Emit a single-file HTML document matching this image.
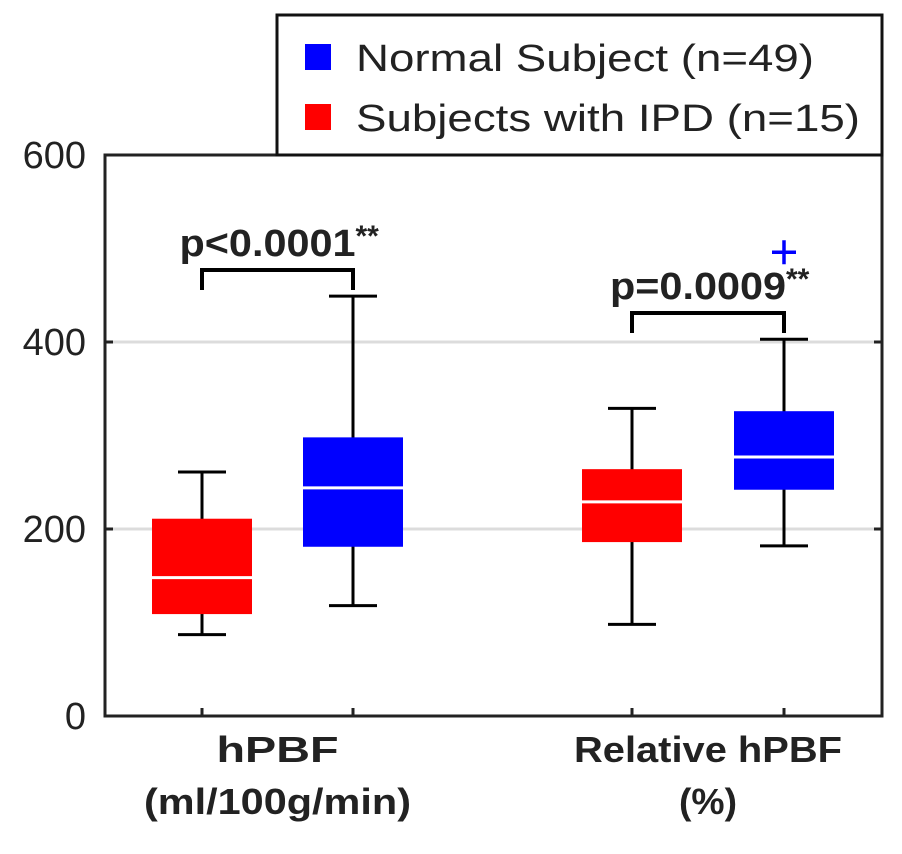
<!DOCTYPE html>
<html><head><meta charset="utf-8"><style>
body{margin:0;background:#fff}
svg text{font-family:"Liberation Sans",Arial,sans-serif;fill:#222}
</style></head><body>
<svg id="chart" width="902" height="849" viewBox="0 0 902 849" xmlns="http://www.w3.org/2000/svg">
<g id="grid"></g>
<g id="boxes"></g>
<g id="axes"></g>
<g id="legend">
<rect x="277" y="15" width="605" height="140" fill="#fff" stroke="#111" stroke-width="3"/>
<rect x="305" y="44" width="26" height="26" fill="#0000ff"/>
<text x="356" y="71" font-size="38" textLength="458" lengthAdjust="spacingAndGlyphs">Normal Subject (n=49)</text>
<rect x="305" y="104" width="26" height="26" fill="#ff0000"/>
<text x="356" y="131" font-size="38" textLength="504" lengthAdjust="spacingAndGlyphs">Subjects with IPD (n=15)</text>
</g>
</svg>
<script>
const yTicks=[0,200,400,600];
const groups=["hPBF|(ml/100g/min)","Relative hPBF|(%)"];
const seriesNames=["ipd","normal"];
const ipdStats=[[87,109,148,211,261],[98,186,229,264,329]];
const normalStats=[[118,181,244,298,449],[182,242,277,326,403]];
const normalOutliers=[[],[496]];
const pLabels=["p<0.0001","p=0.0009"];
const ns="http://www.w3.org/2000/svg";
const L=105,R=882,T=155,B=716;
const y=v=>B-(v-0)/(600-0)*(B-T);
const centers=[[202,353],[632,784]];
const l1W=[122,268],l2W=[267,58];
function el(tag,attrs,parent){const e=document.createElementNS(ns,tag);for(const k in attrs)e.setAttribute(k,attrs[k]);parent.appendChild(e);return e;}
const grid=document.getElementById('grid'),boxes=document.getElementById('boxes'),axes=document.getElementById('axes');
yTicks.forEach(t=>{
 if(t>0&&t<600){const g=el('line',{x1:L,x2:R,y1:y(t),y2:y(t),stroke:'#dcdcdc','stroke-width':3},grid);
 
 }
 el('line',{x1:L,x2:L+8,y1:y(t),y2:y(t),stroke:'#222','stroke-width':3},axes);
 el('line',{x1:R-8,x2:R,y1:y(t),y2:y(t),stroke:'#222','stroke-width':3},axes);
 const tx=el('text',{x:86,y:y(t)+13,'font-size':38,'text-anchor':'end'},axes);tx.textContent=t;
 
 
});
const frame=el('rect',{x:L,y:T,width:R-L,height:B-T,fill:'none',stroke:'#222','stroke-width':3},axes);


function drawBox(cx,s,color,name){
 const g=el('g',{},boxes);
 
 
 el('line',{x1:cx,x2:cx,y1:y(s[0]),y2:y(s[4]),stroke:'#000','stroke-width':3},g);
 el('line',{x1:cx-24,x2:cx+24,y1:y(s[0]),y2:y(s[0]),stroke:'#000','stroke-width':3},g);
 el('line',{x1:cx-24,x2:cx+24,y1:y(s[4]),y2:y(s[4]),stroke:'#000','stroke-width':3},g);
 el('rect',{x:cx-50,y:y(s[3]),width:100,height:y(s[1])-y(s[3]),fill:color},g);
 el('line',{x1:cx-50,x2:cx+50,y1:y(s[2]),y2:y(s[2]),stroke:'#fff','stroke-width':3},g);
}
groups.forEach((gname,i)=>{
 const [c1,c2]=centers[i];
 drawBox(c1,ipdStats[i],'#ff0000','box-ipd-'+i);
 drawBox(c2,normalStats[i],'#0000ff','box-normal-'+i);
 normalOutliers[i].forEach(o=>{const t=el('path',{d:`M${c2-12} ${y(o)}H${c2+12}M${c2} ${y(o)-12}V${y(o)+12}`,stroke:'#0000ff','stroke-width':3.5,fill:'none'},boxes);
 
 });
 const by=i===0?270:313;
 const br=el('path',{d:`M${c1} ${by+20}V${by}H${c2}V${by+20}`,fill:'none',stroke:'#000','stroke-width':4},boxes);
 
 
 const pt=el('text',{x:(c1+c2)/2-10,y:by-14,'font-size':38,'font-weight':'bold','text-anchor':'middle',textLength:176,lengthAdjust:'spacingAndGlyphs'},boxes);
 pt.textContent=pLabels[i];
 
 
 const st=el('text',{x:(c1+c2)/2+78,y:by-24,'font-size':30,'font-weight':'bold'},boxes);st.textContent='**';
 
 
 const [l1,l2]=gname.split('|');
 const xl=el('text',{x:(c1+c2)/2,y:762,'font-size':36,'font-weight':'bold','text-anchor':'middle',textLength:l1W[i],lengthAdjust:'spacingAndGlyphs'},axes);xl.textContent=l1;
 
 
 const xl2=el('text',{x:(c1+c2)/2,y:814,'font-size':36,'font-weight':'bold','text-anchor':'middle',textLength:l2W[i],lengthAdjust:'spacingAndGlyphs'},axes);xl2.textContent=l2;
 
 
 [c1,c2].forEach(c=>{el('line',{x1:c,x2:c,y1:B,y2:B-8,stroke:'#222','stroke-width':3},axes);});
});
</script>
</body></html>
